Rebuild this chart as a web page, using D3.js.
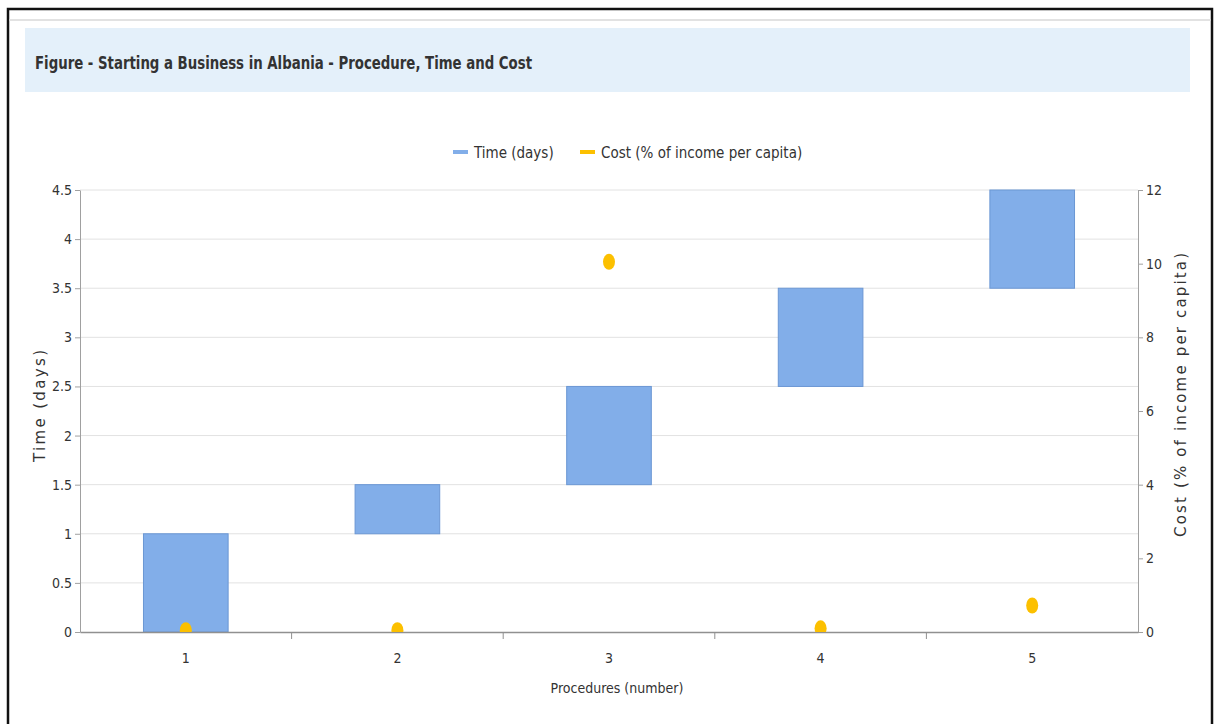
<!DOCTYPE html>
<html>
<head>
<meta charset="utf-8">
<script src="https://cdn.jsdelivr.net/npm/d3@7"></script>
<style>
body{margin:0;background:#fff;}
text{font-family:"DejaVu Sans Condensed","DejaVu Sans",sans-serif;}
</style>
</head>
<body>
<script>
var w = 1221;
var h = 724;
var procedures = ["1","2","3","4","5"];
var timeStart = [0, 1, 1.5, 2.5, 3.5];
var timeEnd = [1, 1.5, 2.5, 3.5, 4.5];
var cost = [0.05, 0.05, 10.05, 0.1, 0.72];
var leftTicks = [0,0.5,1,1.5,2,2.5,3,3.5,4,4.5];
var rightTicks = [0,2,4,6,8,10,12];

var svg = d3.select("body").append("svg").attr("width",w).attr("height",h);

// frame
svg.append("rect").attr("x",8).attr("y",9).attr("width",1204).attr("height",730)
  .attr("fill","#fff").attr("stroke","#111").attr("stroke-width",2.5);
svg.append("line").attr("x1",9).attr("x2",1211).attr("y1",20).attr("y2",20)
  .attr("stroke","#d8d8d8").attr("stroke-width",1.5);

// title band
svg.append("rect").attr("x",25).attr("y",28).attr("width",1165).attr("height",64).attr("fill","#e4f0fa");
svg.append("text").attr("x",35).attr("y",69).text("Figure - Starting a Business in Albania - Procedure, Time and Cost")
  .attr("font-weight","bold").attr("font-size",17).attr("fill","#333")
  .attr("textLength",497).attr("lengthAdjust","spacingAndGlyphs");

var pL = 80, pR = 1138, pT = 190, pB = 632;
var x = d3.scaleBand().domain(procedures).range([pL,pR]);
var y = d3.scaleLinear().domain([0,4.5]).range([pB,pT]);
var y2 = d3.scaleLinear().domain([0,12]).range([pB,pT]);

// grid
svg.selectAll("line.grid").data(leftTicks.slice(1)).enter().append("line")
  .attr("class","grid").attr("x1",pL).attr("x2",pR)
  .attr("y1",function(d){return y(d);}).attr("y2",function(d){return y(d);})
  .attr("stroke","#e2e2e2").attr("stroke-width",1);

// bars
svg.selectAll("rect.bar").data(procedures).enter().append("rect")
  .attr("class","bar")
  .attr("x",function(d){return x(d)+x.bandwidth()*0.3;})
  .attr("width",x.bandwidth()*0.4)
  .attr("y",function(d,i){return y(timeEnd[i]);})
  .attr("height",function(d,i){return y(timeStart[i])-y(timeEnd[i]);})
  .attr("fill","#82aee9").attr("stroke","#6b97d4").attr("stroke-width",1);

// axes
function styleAxis(g){
  g.attr("font-size",14).attr("font-family","'DejaVu Sans Condensed',sans-serif");
  g.selectAll("path,line").attr("stroke","#a0a0a0");
  g.selectAll("text").attr("fill","#333");
}
var gl = svg.append("g").attr("transform","translate("+pL+",0)")
  .call(d3.axisLeft(y).tickValues(leftTicks).tickSize(5).tickSizeOuter(0).tickFormat(d3.format("")));
styleAxis(gl);
var gr = svg.append("g").attr("transform","translate("+pR+",0)")
  .call(d3.axisRight(y2).tickValues(rightTicks).tickSize(5).tickSizeOuter(0));
styleAxis(gr);
var gb = svg.append("g").attr("transform","translate(0,"+pB+")")
  .call(d3.axisBottom(x).tickSize(0).tickPadding(21));
styleAxis(gb);
gb.select("path").attr("stroke","#909090").attr("stroke-width",1.5);
gb.selectAll("line.sep").data(procedures.slice(1)).enter().append("line")
  .attr("class","sep").attr("x1",function(d){return x(d);}).attr("x2",function(d){return x(d);})
  .attr("y1",0).attr("y2",7).attr("stroke","#909090");

// cost points clipped to plot
svg.append("clipPath").attr("id","plot").append("rect")
  .attr("x",pL).attr("y",pT-10).attr("width",pR-pL).attr("height",pB-pT+10);
svg.append("g").attr("clip-path","url(#plot)")
  .selectAll("ellipse").data(procedures).enter().append("ellipse")
  .attr("cx",function(d){return x(d)+x.bandwidth()/2;})
  .attr("cy",function(d,i){return y2(cost[i]);})
  .attr("rx",6).attr("ry",8).attr("fill","#fcc000");

// axis titles
svg.append("text").attr("transform","translate(45,406) rotate(-90)")
  .attr("text-anchor","middle").attr("font-size",15).attr("fill","#333")
  .attr("textLength",112).attr("lengthAdjust","spacing")
  .style("font-family","'DejaVu Sans',sans-serif").text("Time (days)");
svg.append("text").attr("transform","translate(1186,395) rotate(-90)")
  .attr("text-anchor","middle").attr("font-size",15).attr("fill","#333")
  .attr("textLength",284).attr("lengthAdjust","spacing")
  .style("font-family","'DejaVu Sans',sans-serif").text("Cost (% of income per capita)");
svg.append("text").attr("x",617).attr("y",693).attr("text-anchor","middle")
  .attr("font-size",14).attr("fill","#333").text("Procedures (number)");

// legend
var legendNames = ["Time (days)","Cost (% of income per capita)"];
var legendColors = ["#82aee9","#fcc000"];
var legendX = [453, 580];
svg.selectAll("rect.leg").data(legendNames).enter().append("rect")
  .attr("class","leg").attr("x",function(d,i){return legendX[i];}).attr("y",150)
  .attr("width",15).attr("height",4).attr("fill",function(d,i){return legendColors[i];});
svg.selectAll("text.leg").data(legendNames).enter().append("text")
  .attr("class","leg").attr("x",function(d,i){return legendX[i]+21;}).attr("y",158)
  .attr("font-size",15).attr("fill","#333").text(function(d){return d;});
</script>
</body>
</html>
